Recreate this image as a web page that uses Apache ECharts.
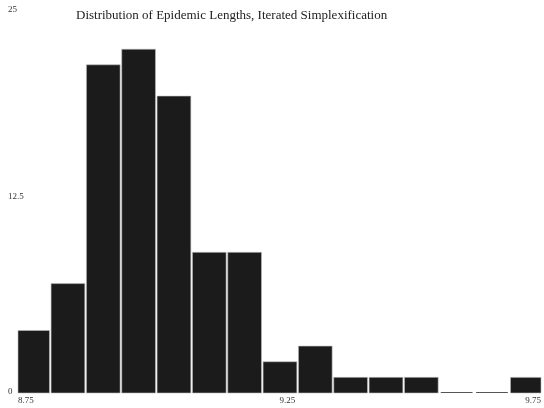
<!DOCTYPE html>
<html>
<head>
<meta charset="utf-8">
<script src="https://cdn.jsdelivr.net/npm/echarts@6/dist/echarts.min.js"></script>
<style>
  html, body { margin: 0; padding: 0; background: #fff; }
  #chart { width: 544px; height: 408px; }
</style>
</head>
<body>
<div id="chart"></div>
<script>
// Histogram bins: left edge, right edge, count of epidemics
const binLeft  = [8.7441, 8.8117, 8.8793, 8.9468, 9.0144, 9.0820, 9.1495, 9.2171, 9.2847, 9.3522, 9.4198, 9.4874, 9.5549, 9.6225, 9.6901];
const binRight = [8.8117, 8.8793, 8.9468, 9.0144, 9.0820, 9.1495, 9.2171, 9.2847, 9.3522, 9.4198, 9.4874, 9.5549, 9.6225, 9.6901, 9.7576];
const counts   = [4, 7, 21, 22, 19, 9, 9, 2, 3, 1, 1, 1, 0, 0, 1];
const xTickLabels = ['8.75', '9.25', '9.75'];
const yTickLabels = ['0', '12.5', '25'];
const titleText = 'Distribution of Epidemic Lengths, Iterated Simplexification';

const seriesData = counts.map((c, i) => [binLeft[i], binRight[i], c]);

const chart = echarts.init(document.getElementById('chart'), null, { renderer: 'canvas' });

// Each bin is a filled rectangle, trimmed to the plotting area;
// empty bins show only a thin baseline stroke.
function renderBin(params, api) {
  const x0 = api.value(0), x1 = api.value(1), v = api.value(2);
  const pTop = api.coord([x0, v]);
  const pBase = api.coord([x1, 0]);
  const cs = params.coordSys;
  const left = Math.max(pTop[0] + 0.8, cs.x);
  const right = Math.min(pBase[0] - 0.8, cs.x + cs.width);
  if (v === 0) {
    return {
      type: 'line',
      shape: { x1: left + 1, y1: pBase[1] - 0.5, x2: right - 1, y2: pBase[1] - 0.5 },
      style: { stroke: '#555', lineWidth: 1 }
    };
  }
  return {
    type: 'rect',
    shape: { x: left, y: pTop[1], width: right - left, height: pBase[1] - pTop[1] },
    style: { fill: '#1b1b1b', stroke: '#bdbdbd', lineWidth: 0.6 }
  };
}

chart.setOption({
  animation: false,
  backgroundColor: '#ffffff',
  title: {
    text: titleText,
    left: 71,
    top: 4,
    textStyle: { fontFamily: 'Liberation Serif', fontWeight: 'normal', fontSize: 13, color: '#222' }
  },
  grid: { left: 18, right: 0, top: 2.3, bottom: 15, containLabel: false },
  xAxis: {
    type: 'value',
    min: 8.75,
    max: 9.75,
    interval: 0.25,
    axisLine: { show: false },
    axisTick: { show: false },
    splitLine: { show: false },
    axisLabel: {
      fontFamily: 'Liberation Serif',
      fontSize: 9,
      color: '#333',
      margin: 3,
      align: 'left',
      alignMaxLabel: 'right',
      showMinLabel: true,
      showMaxLabel: true,
      formatter: function (val) {
        const s = val.toFixed(2);
        return xTickLabels.indexOf(s) >= 0 ? s : '';
      }
    }
  },
  yAxis: {
    type: 'value',
    min: 0,
    max: 25,
    interval: 12.5,
    axisLine: { show: false },
    axisTick: { show: false },
    splitLine: { show: false },
    axisLabel: {
      fontFamily: 'Liberation Serif',
      fontSize: 9,
      color: '#333',
      align: 'left',
      margin: 10,
      verticalAlignMaxLabel: 'top',
      showMinLabel: true,
      showMaxLabel: true,
      formatter: function (val) {
        const s = String(val);
        if (yTickLabels.indexOf(s) < 0) return '';
        return s === '25' ? '{t|' + s + '}' : '{m|' + s + '}';
      },
      rich: {
        t: { fontFamily: 'Liberation Serif', fontSize: 9, color: '#333', padding: [3, 0, 0, 0] },
        m: { fontFamily: 'Liberation Serif', fontSize: 9, color: '#333', padding: [0, 0, 2, 0] }
      }
    }
  },
  series: [{
    type: 'custom',
    renderItem: renderBin,
    encode: { x: [0, 1], y: 2 },
    data: seriesData,
    clip: false
  }]
});
</script>
</body>
</html>
